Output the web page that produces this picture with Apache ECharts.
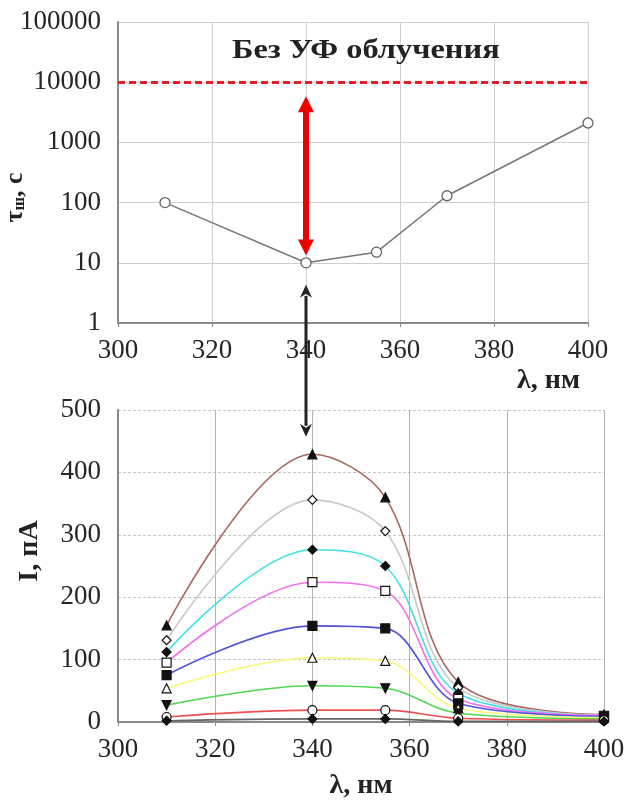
<!DOCTYPE html>
<html>
<head>
<meta charset="utf-8">
<script src="https://cdn.jsdelivr.net/npm/echarts@6/dist/echarts.min.js"></script>
<style>html,body{margin:0;padding:0;background:#fff;}#c{width:631px;height:802px;}</style>
</head>
<body>
<div id="c"></div>
<script>
// ---- data ----
var wavelengths = [310, 340, 355, 370, 400];
var tauValues = [100, 10, 15, 130, 2100];
var noUvLevel = 10000;
var redArrowEnds = [4300, 18];
var blackArrowTop = [340, 4.3];
var blackArrowBottom = [340, 457];

var s1 = [155, 429, 360, 64, 12];
var s2 = [131, 356, 306, 55, 11];
var s3 = [112, 276, 250, 46, 10];
var s4 = [95, 224, 210, 37, 10];
var s5 = [75, 154, 150, 30, 9];
var s6 = [54, 103, 98, 22, 7];
var s7 = [27, 58, 54, 14, 5];
var s8 = [8, 19, 19, 6, 3];
var s9 = [2, 5, 5, 1, 1];

var titleText = 'Без УФ облучения';

function pairs(v){ return wavelengths.map(function(x,i){ return [x, v[i]]; }); }

var FONT = '"Liberation Serif", "Times New Roman", serif';
var labelStyle = {fontFamily: FONT, fontSize: 27, color: '#262626'};

var chart = echarts.init(document.getElementById('c'), null, {renderer: 'canvas'});

var curveDefs = [
  {d: s1, color: '#a8675c', symbol: 'triangle', filled: true},
  {d: s2, color: '#c8c8c8', symbol: 'diamond', filled: false},
  {d: s3, color: '#40e0e8', symbol: 'diamond', filled: true},
  {d: s4, color: '#f070f0', symbol: 'rect', filled: false},
  {d: s5, color: '#5252d8', symbol: 'rect', filled: true},
  {d: s6, color: '#f8f878', symbol: 'triangle', filled: false},
  {d: s7, color: '#50d850', symbol: 'triangle', filled: true, rotate: 180},
  {d: s8, color: '#f05050', symbol: 'circle', filled: false},
  {d: s9, color: '#666666', symbol: 'diamond', filled: true}
];

var bottomSeries = curveDefs.map(function(c){
  return {
    type: 'line', xAxisIndex: 1, yAxisIndex: 1,
    data: pairs(c.d), smooth: 0.35,
    symbol: c.symbol, symbolSize: 9, symbolRotate: c.rotate || 0,
    lineStyle: {color: c.color, width: 1.6},
    itemStyle: {color: c.filled ? '#111' : '#fff', borderColor: '#111', borderWidth: 1.2},
    z: 3
  };
});

var option = {
  animation: false,
  backgroundColor: '#fff',
  grid: [
    {left: 118, top: 22, width: 470, height: 301, outerBoundsMode: 'none', containLabel: false},
    {left: 118, top: 410, width: 486, height: 312, outerBoundsMode: 'none', containLabel: false}
  ],
  xAxis: [
    {
      type: 'value', gridIndex: 0, min: 300, max: 400, interval: 20,
      name: 'λ, нм', nameLocation: 'end', nameGap: 0, nameMoveOverlap: false,
      nameTextStyle: {fontFamily: FONT, fontSize: 28, fontWeight: 'bold', color: '#222', align: 'right', verticalAlign: 'top', padding: [44, 8, 0, 0]},
      axisLine: {show: true, lineStyle: {color: '#8a8a8a', width: 2}},
      axisTick: {show: true, length: 4, lineStyle: {color: '#8a8a8a'}},
      axisLabel: Object.assign({margin: 14}, labelStyle),
      splitLine: {show: true, lineStyle: {color: '#cfcfcf', width: 1}}
    },
    {
      type: 'value', gridIndex: 1, min: 300, max: 400, interval: 20,
      name: 'λ, нм', nameLocation: 'middle', nameGap: 50, nameMoveOverlap: false,
      nameTextStyle: {fontFamily: FONT, fontSize: 28, fontWeight: 'bold', color: '#222'},
      axisLine: {show: true, lineStyle: {color: '#8a8a8a', width: 2}},
      axisTick: {show: true, length: 4, lineStyle: {color: '#8a8a8a'}},
      axisLabel: Object.assign({margin: 14}, labelStyle),
      splitLine: {show: true, lineStyle: {color: '#b4b4b4', width: 1}}
    }
  ],
  yAxis: [
    {
      type: 'log', gridIndex: 0, logBase: 10, min: 1, max: 100000,
      name: '{t|τ}{s|ш}{t|, с}', nameLocation: 'middle', nameGap: 90, nameRotate: 90, nameMoveOverlap: false,
      nameTextStyle: {rich: {
        t: {fontFamily: FONT, fontSize: 26, fontWeight: 'bold', color: '#222'},
        s: {fontFamily: FONT, fontSize: 16, fontWeight: 'bold', color: '#222', verticalAlign: 'bottom', padding: [10, 0, 0, 0]}
      }, padding: [0, 0, 0, -50]},
      axisLine: {show: true, lineStyle: {color: '#8a8a8a', width: 2}},
      axisTick: {show: false},
      axisLabel: Object.assign({margin: 17, formatter: function(v){ return String(v); }}, labelStyle),
      splitLine: {show: true, lineStyle: {color: '#cfcfcf', width: 1}}
    },
    {
      type: 'value', gridIndex: 1, min: 0, max: 500, interval: 100,
      name: 'I, пА', nameLocation: 'middle', nameGap: 74, nameRotate: 90, nameMoveOverlap: false,
      nameTextStyle: {fontFamily: FONT, fontSize: 28, fontWeight: 'bold', color: '#222', padding: [0, 0, 0, 30]},
      axisLine: {show: true, lineStyle: {color: '#8a8a8a', width: 2}},
      axisTick: {show: false},
      axisLabel: Object.assign({margin: 17}, labelStyle),
      splitLine: {show: true, lineStyle: {color: '#c4c4c4', width: 1, type: [3, 2]}}
    }
  ],
  series: [
    {
      type: 'line', xAxisIndex: 0, yAxisIndex: 0,
      data: pairs(tauValues),
      symbol: 'circle', symbolSize: 10,
      lineStyle: {color: '#777', width: 1.5},
      itemStyle: {color: '#fff', borderColor: '#666', borderWidth: 1.3},
      z: 4,
      markLine: {
        silent: true, animation: false,
        symbol: ['none', 'none'],
        label: {show: false},
        data: [
          {yAxis: noUvLevel, lineStyle: {color: '#e0202a', width: 3, type: [7, 4]}},
          [
            {coord: [340, redArrowEnds[0]], symbol: 'triangle', symbolSize: [16, 16]},
            {coord: [340, redArrowEnds[1]], symbol: 'triangle', symbolSize: [16, 16], lineStyle: {color: '#ee0000', width: 6, type: 'solid'}}
          ]
        ],
        lineStyle: {color: '#ee0000', width: 6, type: 'solid'},
        itemStyle: {color: '#ee0000'}
      }
    }
  ].concat(bottomSeries)
};

chart.setOption(option);

// black double-headed arrow linking the two panels
var pTop = chart.convertToPixel({xAxisIndex: 0, yAxisIndex: 0}, blackArrowTop);
var pBot = chart.convertToPixel({xAxisIndex: 1, yAxisIndex: 1}, blackArrowBottom);
var ax = pTop[0], hw = 6, hh = 13;
chart.setOption({
  graphic: [
    {type: 'text', x: 232, y: 38, scaleX: 1.2, z: 10,
      style: {text: titleText, font: 'bold 27px ' + FONT, fill: '#222', textVerticalAlign: 'top'}},
    {type: 'line', shape: {x1: ax, y1: pTop[1] + hh - 2, x2: ax, y2: pBot[1] - hh + 2}, style: {stroke: '#222', lineWidth: 3}, z: 10},
    {type: 'polygon', shape: {points: [[ax, pTop[1]], [ax - hw, pTop[1] + hh], [ax, pTop[1] + hh - 4], [ax + hw, pTop[1] + hh]]}, style: {fill: '#222'}, z: 10},
    {type: 'polygon', shape: {points: [[ax, pBot[1]], [ax - hw, pBot[1] - hh], [ax, pBot[1] - hh + 4], [ax + hw, pBot[1] - hh]]}, style: {fill: '#222'}, z: 10}
  ]
});
</script>
</body>
</html>
